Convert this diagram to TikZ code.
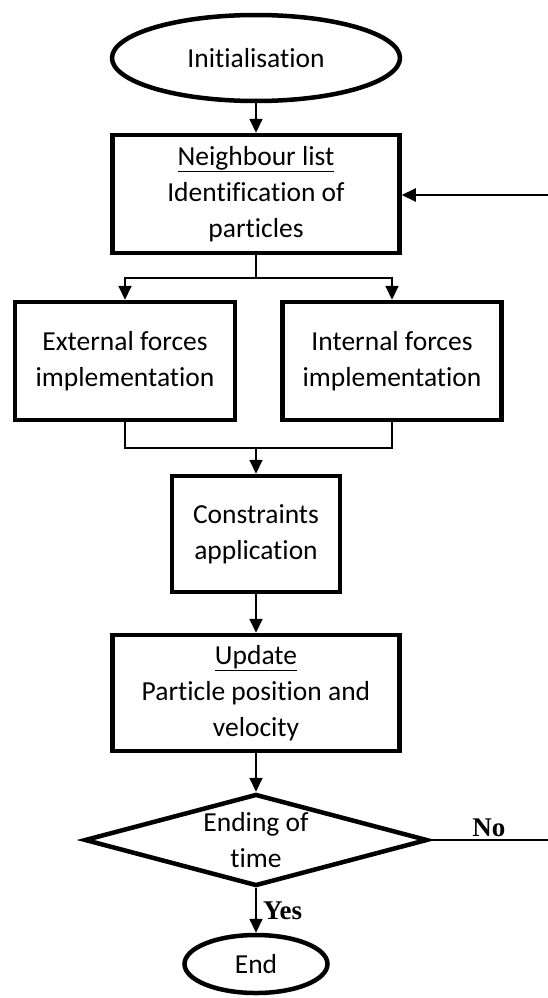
\documentclass[tikz,border=0pt]{standalone}
\usepackage{fontspec}
\setmainfont{Carlito}[Renderer=Harfbuzz, RawFeature={-liga;-clig;-calt;-ccmp;-dlig;-rlig}]
\newfontfamily\answerfont{Liberation Serif}
\usetikzlibrary{arrows.meta, positioning, shapes.geometric, calc}

\begin{document}
\begin{tikzpicture}[x=1pt, y=-1pt,
  every node/.style={font=\fontsize{27.5}{36}\selectfont, align=center},
  stepbox/.style={draw, line width=4.5pt, rectangle, inner sep=0pt},
  terminal/.style={draw, line width=4.5pt, ellipse, inner sep=0pt},
  decision/.style={draw, line width=4.5pt, diamond, shape aspect=3.65, inner xsep=0pt, inner ysep=-14pt},
  conn/.style={line width=2pt},
  arr/.style={conn, -{Triangle[length=14pt,width=13pt]}},
  answer/.style={font=\answerfont\bfseries\fontsize{27}{30}\selectfont, inner sep=2pt}
]
\useasboundingbox (0,0) rectangle (548,998);

% boxes
\node[terminal, minimum width=288pt, minimum height=86pt] (init) at (256,58) {Initialisation};
\node[stepbox, minimum width=287pt, minimum height=118pt] (nlist) at (256,194) {\underline{Neighbour list}\\Identification of\\particles};
\node[stepbox, minimum width=220pt, minimum height=118pt] (ext) at (125,361) {External forces\\implementation};
\node[stepbox, minimum width=219pt, minimum height=118pt] (int) at (392,361) {Internal forces\\implementation};
\node[stepbox, minimum width=168pt, minimum height=116pt] (cons) at (256,534) {Constraints\\application};
\node[stepbox, minimum width=287pt, minimum height=116pt] (upd) at (256,693) {\underline{Update}\\Particle position and\\velocity};
\node[decision, minimum width=343pt, minimum height=92pt] (dec) at (256,840) {Ending of\\time};
\node[terminal, minimum width=143pt, minimum height=58pt] (fin) at (256,964) {End};

% junctions and loose ends
\coordinate (split) at (256,278);
\coordinate (merge) at (256,448);
\coordinate (back) at (548,195);
\coordinate (noout) at (548,840);

% connectors
\draw[arr] (init) -- (nlist);
\draw[conn] (nlist.south) -- (split);
\draw[arr] (split) -| (ext.north);
\draw[arr] (split) -| (int.north);
\draw[conn] (ext.south) |- (merge) -| (int.south);
\draw[arr] (merge) -- (cons.north);
\draw[arr] (cons) -- (upd);
\draw[arr] (upd) -- (dec);
\draw[arr] (dec) -- node[answer, right=4pt]{Yes} (fin);
\draw[conn] (dec) -- node[answer, above]{No} (noout);
\draw[arr] (back) -- (back -| nlist.east);
\end{tikzpicture}
\end{document}
